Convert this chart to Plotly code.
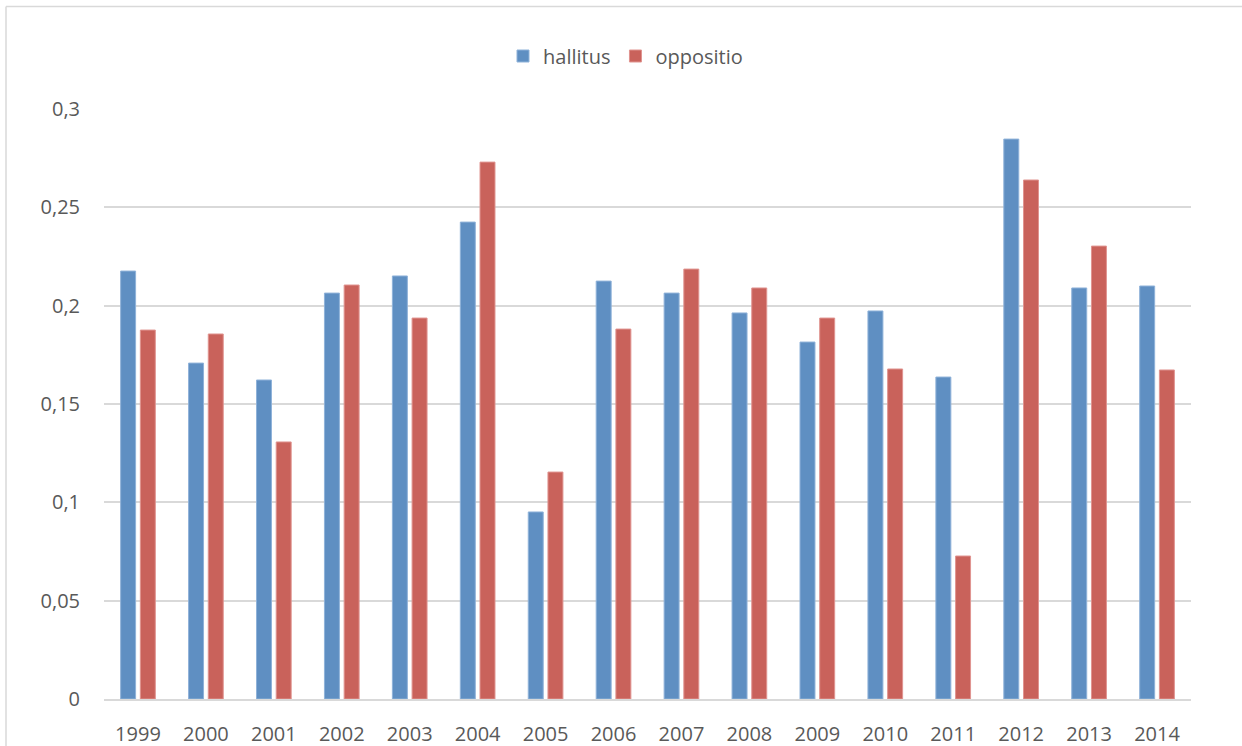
import plotly.graph_objects as go

# Vuosittaiset arvot: hallitus ja oppositio
years = ["1999", "2000", "2001", "2002", "2003", "2004", "2005", "2006",
         "2007", "2008", "2009", "2010", "2011", "2012", "2013", "2014"]
hallitus = [0.2176, 0.1708, 0.1622, 0.2064, 0.2151, 0.2425, 0.0951, 0.2125,
            0.2064, 0.1963, 0.1815, 0.1973, 0.1637, 0.2847, 0.2090, 0.2100]
oppositio = [0.1876, 0.1856, 0.1307, 0.2105, 0.1937, 0.2730, 0.1154, 0.1881,
             0.2186, 0.2090, 0.1937, 0.1678, 0.0727, 0.2639, 0.2303, 0.1673]
y_ticks = [0, 0.05, 0.1, 0.15, 0.2, 0.25, 0.3]
y_ticktext = ["0", "0,05", "0,1", "0,15", "0,2", "0,25", "0,3"]

BLUE = "#5F8FC2"
RED = "#C9625B"
TEXT = "#595959"
GRID = "#D9D9D9"
FS = 20

fig = go.Figure()
fig.add_trace(go.Bar(x=years, y=hallitus, name="hallitus",
                     marker=dict(color=BLUE, line=dict(color="#8FB2D9", width=1))))
fig.add_trace(go.Bar(x=years, y=oppositio, name="oppositio",
                     marker=dict(color=RED, line=dict(color="#E09490", width=1))))

L, R, T, B = 104, 51, 109, 47
W, H = 1242, 746
pw, ph = W - L - R, H - T - B

fig.update_layout(
    width=W, height=H,
    margin=dict(l=L, r=R, t=T, b=B),
    paper_bgcolor="white", plot_bgcolor="white",
    barmode="group", bargap=0.42, bargroupgap=0.24,
    font=dict(family="Open Sans", color=TEXT, size=FS),
    legend=dict(orientation="h", x=0.5 - 22 / pw, xanchor="center",
                y=1 + (109 - 56) / ph, yanchor="middle",
                font=dict(size=FS, color=TEXT),
                itemwidth=30, traceorder="normal"),
    xaxis=dict(showgrid=False, showline=True, linecolor=GRID, linewidth=2,
               ticks="outside", ticklen=16, tickcolor="rgba(0,0,0,0)",
               tickfont=dict(size=FS, color=TEXT), automargin=False, fixedrange=True),
    yaxis=dict(range=[0, 0.3], tickvals=y_ticks, ticktext=y_ticktext,
               showgrid=True, gridcolor=GRID, gridwidth=1.5, zeroline=False,
               showline=False, ticks="outside", ticklen=19, automargin=False,
               tickcolor="rgba(0,0,0,0)", tickfont=dict(size=FS, color=TEXT)),
    shapes=[
        # chart frame, top and left edges
        dict(type="line", xref="paper", yref="paper",
             x0=(6 - L) / pw, x1=(W - L) / pw, y0=1 + (T - 6.5) / ph, y1=1 + (T - 6.5) / ph,
             line=dict(color="#D9D9D9", width=1.5)),
        dict(type="line", xref="paper", yref="paper",
             x0=(6 - L) / pw, x1=(6 - L) / pw, y0=1 + (T - 6.5) / ph, y1=-B / ph,
             line=dict(color="#D9D9D9", width=1.5)),
    ],
)

fig.write_html("out.html")
